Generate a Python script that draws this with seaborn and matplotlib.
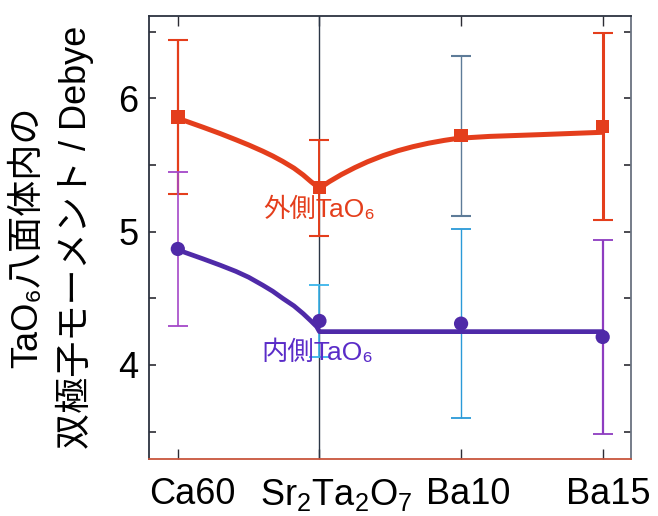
import numpy as np
import matplotlib
matplotlib.use("Agg")
import matplotlib.pyplot as plt
from matplotlib.ticker import FixedLocator, MultipleLocator
from matplotlib.transforms import ScaledTranslation
import seaborn as sns

# Samples and dipole moments of the TaO6 octahedra (Debye)
categories = ["Ca60", "Sr$_2$Ta$_2$O$_7$", "Ba10", "Ba15"]
outer_moment = [5.86, 5.33, 5.72, 5.79]
outer_error = [0.58, 0.36, 0.60, 0.70]
inner_moment = [4.87, 4.33, 4.31, 4.21]
inner_error = [0.575, 0.27, 0.71, 0.725]

# Guide curves through each series (category index, moment)
outer_guide_x = [0.0, 0.18, 0.30, 0.41, 0.50, 0.60, 0.67, 0.74, 0.82, 0.885, 0.94, 1.0,
                 1.07, 1.155, 1.25, 1.34, 1.45, 1.555, 1.66, 1.77, 1.88, 1.98, 2.2, 2.55, 3.0]
outer_guide_y = [5.85, 5.782, 5.735, 5.689, 5.65, 5.603, 5.567, 5.527, 5.476, 5.425, 5.375, 5.325,
                 5.375, 5.428, 5.48, 5.524, 5.57, 5.607, 5.637, 5.663, 5.684, 5.70, 5.714, 5.727, 5.745]
inner_guide_x = [0.0, 0.18, 0.30, 0.41, 0.50, 0.60, 0.67, 0.74, 0.82, 0.885, 0.94, 0.98, 1.0, 3.0]
inner_guide_y = [4.863, 4.795, 4.748, 4.702, 4.658, 4.598, 4.553, 4.50, 4.443, 4.385, 4.33, 4.288, 4.25, 4.25]

outer_label = "外側TaO₆"
inner_label = "内側TaO₆"
y_label = "TaO₆八面体内の\n双極子モーメント / Debye"

sns.set_theme(style="ticks")
plt.rcParams["font.family"] = ["Liberation Sans", "Noto Sans CJK JP", "DejaVu Sans"]
plt.rcParams["mathtext.fontset"] = "custom"
plt.rcParams["mathtext.rm"] = "Liberation Sans"
plt.rcParams["mathtext.it"] = "Liberation Sans:italic"
plt.rcParams["mathtext.bf"] = "Liberation Sans:bold"

RED = "#e43e1c"
PURPLE = "#4f2aa8"

fig = plt.figure(figsize=(6.58, 5.16), dpi=100)
ax = fig.add_axes([0.2272, 0.1105, 0.7318, 0.8585])

x = np.arange(len(categories))

# reference line at the Sr2Ta2O7 position
ax.axvline(x[1], color="#2b3646", lw=1.0, zorder=1)

# error bars (colour per sample)
outer_bar_colors = [RED, RED, "#5d7b98", RED]
outer_bar_widths = [1.6, 1.4, 1.0, 2.2]
inner_bar_colors = ["#a448c8", "#3ab4ea", "#2a9ad8", "#8e3cc0"]
inner_cap_colors = ["#4050c8", "#c04030", "#2a9ad8", "#3a2a80"]
inner_bar_widths = [1.2, 1.2, 1.0, 1.6]

for i in range(len(categories)):
    _, caps, _ = ax.errorbar(x[i], outer_moment[i], yerr=outer_error[i], fmt="none",
                             ecolor=outer_bar_colors[i], elinewidth=outer_bar_widths[i],
                             capsize=7, capthick=1.5, zorder=2)
    for c in caps:
        c.set_color("#c8341c")
    _, caps, _ = ax.errorbar(x[i], inner_moment[i], yerr=inner_error[i], fmt="none",
                             ecolor=inner_bar_colors[i], elinewidth=inner_bar_widths[i],
                             capsize=7, capthick=1.3, zorder=2)
    for c in caps:
        c.set_color(inner_cap_colors[i])

# guide curves
sns.lineplot(x=outer_guide_x, y=outer_guide_y, sort=False, estimator=None,
             color=RED, lw=3.6, ax=ax, zorder=3)
sns.lineplot(x=inner_guide_x, y=inner_guide_y, sort=False, estimator=None,
             color=PURPLE, lw=3.4, ax=ax, zorder=3)
for ln in ax.get_lines():
    ln.set_solid_joinstyle("round")

# data markers
sns.scatterplot(x=x, y=outer_moment, marker="s", s=95, color=RED,
                edgecolor="none", ax=ax, zorder=4)
sns.scatterplot(x=x, y=inner_moment, marker="o", s=105, color=PURPLE,
                edgecolor="none", ax=ax, zorder=4)

# series labels
ax.text(0.60, 5.16, outer_label, color=RED, fontsize=19, ha="left", va="center", zorder=5)
ax.text(0.59, 4.09, inner_label, color="#5a2cc8", fontsize=19, ha="left", va="center", zorder=5)

ax.set_xlim(-0.2, 3.2)
ax.set_ylim(3.295, 6.617)

ax.xaxis.set_major_locator(FixedLocator(x))
ax.set_xticklabels(categories)
ax.yaxis.set_major_locator(FixedLocator([4, 5, 6]))
ax.yaxis.set_minor_locator(MultipleLocator(0.5))

ax.tick_params(axis="both", which="both", direction="in", top=True, right=True,
               color="#2c2c34", labelcolor="black")
ax.tick_params(axis="x", which="major", length=7, width=1.0, labelsize=26, pad=13)
ax.tick_params(axis="y", which="major", length=5, width=1.2, labelsize=26, pad=8)
ax.tick_params(axis="y", which="minor", length=5, width=1.2)
ax.tick_params(axis="x", which="minor", bottom=False, top=False)

# shift the category labels slightly to the right
shifts_px = [14, 17, 7, 6]
for lbl, dx in zip(ax.get_xticklabels(), shifts_px):
    lbl.set_transform(lbl.get_transform() + ScaledTranslation(dx / 100, 0, fig.dpi_scale_trans))

ax.set_xlabel("")
ax.set_ylabel(y_label, fontsize=26, linespacing=1.35, color="black")
ax.yaxis.set_label_coords(-0.115, 0.5)

for side, col in {"left": "#2c3340", "top": "#2c3340", "right": "#6a7280", "bottom": "#c8553d"}.items():
    ax.spines[side].set_visible(True)
    ax.spines[side].set_color(col)
    ax.spines[side].set_linewidth(1.3)

fig.savefig("out.png", dpi=100, facecolor="white")
